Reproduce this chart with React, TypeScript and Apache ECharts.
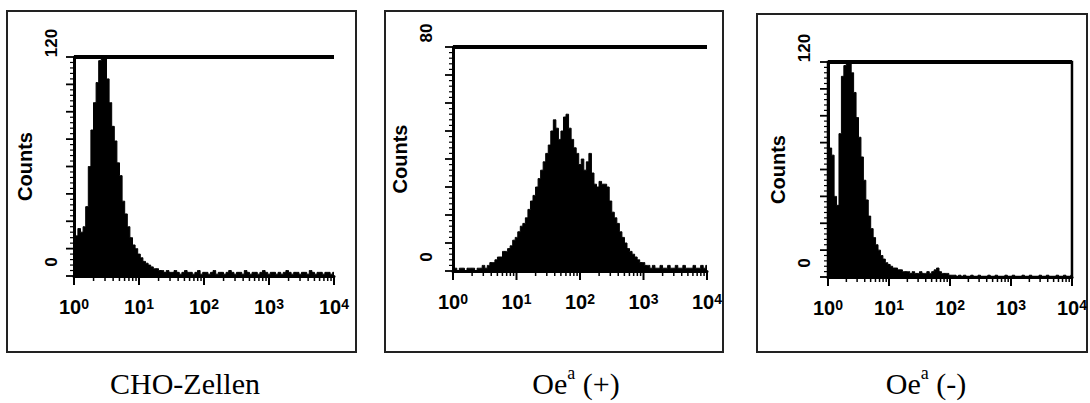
import React, { useEffect, useRef } from 'react';
import * as echarts from 'echarts';

// x positions: log10 of fluorescence (decades 10^0 .. 10^4)
const channels = Array.from({ length: 101 }, (_, i) => (i * 4) / 100);
const captions = ['CHO-Zellen', 'Oe^a (+)', 'Oe^a (-)'];
const yMaxes = [120, 80, 120];
const decades = [0, 1, 2, 3, 4];
const logMinor = [2, 3, 4, 5, 6, 7, 8, 9];

const choCells = [
  24, 22, 26, 24, 27, 38, 60, 80, 95, 106,
  118, 120, 119, 108, 95, 82, 74, 62, 55, 41,
  34, 27, 21, 17, 15, 12, 10, 8, 7, 6,
  5, 4, 4, 3, 3, 2, 3, 2, 2, 3,
  2, 1, 2, 3, 2, 2, 1, 2, 3, 1,
  2,
  2, 1, 2, 3, 1, 2, 2, 1, 2, 3, 2, 1, 2, 2, 1, 3, 2, 1, 2, 2, 1, 2, 3, 2, 1,
  2, 2, 1, 2, 1, 2, 3, 2, 1, 2, 2, 1, 2, 2, 1, 3, 2, 1, 2, 2, 1, 2, 2, 1, 2,
];
const oePlus = [
  1, 1, 0, 1, 1, 0, 1, 1, 1, 0, 1, 1, 2, 1, 2,
  3, 3, 4, 5, 5, 7, 7, 8, 9, 11,
  12, 14, 16, 17, 19, 22, 25, 27, 30, 33,
  36, 39, 42, 45, 50, 54, 51, 47, 50, 55,
  56, 51, 47, 44, 42, 38, 40, 36, 39, 42,
  35, 31, 30, 32, 31, 31, 30, 25, 21, 19,
  17, 14, 12, 10, 8, 7, 6, 5, 4, 3,
  3, 2, 2, 1, 2, 1,
  1, 2, 1, 1, 2, 1, 1, 2, 1, 1, 2, 1, 1, 1, 2, 1, 1, 2, 1, 2,
];
const oeMinus = [
  70, 72, 68, 45, 40, 80, 112, 118, 120, 119,
  114, 103, 89, 78, 67, 54, 43, 34, 27, 22,
  18, 15, 12, 10, 8, 7, 6, 5, 5, 4,
  4, 3, 3, 3, 2, 3, 2, 2, 3, 2,
  2, 3, 2, 3, 4, 5, 3, 2, 2, 2,
  1,
  1, 1, 0, 1, 0, 1, 0, 0, 1, 0, 0, 1, 0, 0, 0, 1, 0, 0, 1, 0, 0, 0, 1, 0, 0,
  1, 0, 0, 0, 1, 0, 0, 1, 0, 0, 0, 1, 0, 0, 1, 0, 0, 0, 1, 0, 0, 1, 0, 0, 1,
];
const seriesValues = [choCells, oePlus, oeMinus];

const offsets = [0, 370, 730];
const widths = [370, 360, 360];
const grids = [
  { left: 74, top: 57, width: 260, height: 219 },
  { left: 453, top: 47, width: 254, height: 224 },
  { left: 828, top: 62, width: 246, height: 215 },
];
const boxes = [
  { x: 7, y: 11, width: 349, height: 341 },
  { x: 385, y: 11, width: 338, height: 341 },
  { x: 757, y: 14, width: 330, height: 338 },
];
const captionX = [185, 576, 926];
const yLabelMargin = [14, 18, 15];
const nameGaps = [38, 42, 37];

const SANS = 'Liberation Sans';
const SERIF = 'Liberation Serif';

function captionRich(t: string) {
  const m = t.match(/^(.*)\^(\w)(.*)$/);
  if (!m) return `{n|${t}}`;
  return `{n|${m[1]}}{s|${m[2]}}{n|${m[3]}}`;
}

// tick positions in axis units: [value, isMajor]
const xTickValues: [number, boolean][] = [];
decades.forEach((d) => {
  xTickValues.push([d, true]);
  if (d < 4) logMinor.forEach((k) => xTickValues.push([d + Math.log10(k), false]));
});

function yTickValues(max: number): [number, boolean][] {
  const out: [number, boolean][] = [];
  for (let k = 0; k <= 40; k++) out.push([(k * max) / 40, k % 5 === 0]);
  return out;
}

function overlayOption() {
  const graphic: any[] = [];
  boxes.forEach((b) => {
    graphic.push({ type: 'rect', shape: b, style: { fill: 'none', stroke: '#222', lineWidth: 2 }, silent: true });
  });
  captions.forEach((c, i) => {
    graphic.push({
      type: 'text',
      x: captionX[i],
      y: 381,
      silent: true,
      style: {
        text: captionRich(c),
        align: 'center',
        verticalAlign: 'middle',
        fill: '#000',
        rich: {
          n: { fontSize: 30, fontFamily: SERIF, fill: '#000', lineHeight: 34, verticalAlign: 'bottom' },
          s: { fontSize: 18, fontFamily: SERIF, fill: '#000', lineHeight: 18, verticalAlign: 'top' },
        },
      },
    });
  });
  return { animation: false, graphic };
}

function panelOption(i: number) {
  const ox = offsets[i];
  const g = grids[i];
  const max = yMaxes[i];
  return {
    animation: false,
    grid: [
      {
        left: g.left - ox,
        top: g.top,
        width: g.width,
        height: g.height,
        show: i === 2,
        borderColor: '#000',
        borderWidth: 2.5,
        backgroundColor: 'transparent',
      },
    ],
    xAxis: [
      {
        type: 'value',
        min: 0,
        max: 4,
        interval: 1,
        axisLine: { onZero: false, lineStyle: { color: '#000', width: 3 } },
        axisTick: { show: false },
        minorTick: { show: false },
        splitLine: { show: false },
        axisLabel: {
          margin: 21,
          formatter: (v: number) => `{b|10}{s|${v}}`,
          rich: {
            b: { fontSize: 20, fontWeight: 'bold', fontFamily: SANS, color: '#000', lineHeight: 20, verticalAlign: 'bottom' },
            s: { fontSize: 14, fontWeight: 'bold', fontFamily: SANS, color: '#000', lineHeight: 14, verticalAlign: 'top', padding: [0, 0, 14, 0] },
          },
        },
      },
    ],
    yAxis: [
      {
        type: 'value',
        min: 0,
        max,
        interval: max / 8,
        name: 'Counts',
        nameLocation: 'middle',
        nameRotate: 90,
        nameGap: nameGaps[i],
        nameTextStyle: { fontSize: 20, fontWeight: 'bold', fontFamily: SANS, color: '#000' },
        axisLine: { show: true, onZero: false, lineStyle: { color: '#000', width: 3 } },
        axisTick: { show: false },
        minorTick: { show: false },
        splitLine: { show: false },
        axisLabel: {
          rotate: 90,
          margin: yLabelMargin[i],
          padding: [0, 0, 0, 28],
          fontSize: 17,
          fontWeight: 'bold',
          fontFamily: SANS,
          color: '#000',
          formatter: (v: number) => (v === 0 || v === max ? String(v) : ''),
        },
      },
    ],
    series: [
      {
        type: 'line',
        step: 'middle',
        symbol: 'none',
        lineStyle: { color: '#000', width: 1 },
        areaStyle: { color: '#000', opacity: 1 },
        data: channels.map((c, j) => [c, seriesValues[i][j]]),
        markLine: {
          silent: true,
          symbol: 'none',
          label: { show: false },
          lineStyle: { color: '#000', width: 4, type: 'solid' },
          data: [{ yAxis: max }],
        },
      },
      {
        // x-axis tick marks (log decades with minor ticks), placed via the axis scale
        type: 'custom',
        silent: true,
        clip: false,
        z: 5,
        dimensions: ['x', 'y', 'major'],
        encode: { x: 0, y: 1 },
        data: xTickValues.map(([v, major]) => [v, 0, major ? 1 : 0]),
        renderItem: (_p: any, api: any) => {
          const pt = api.coord([api.value(0), 0]);
          const len = api.value(2) ? 9 : 5;
          return {
            type: 'line',
            shape: { x1: pt[0], y1: pt[1], x2: pt[0], y2: pt[1] + len },
            style: { stroke: '#000', lineWidth: api.value(2) ? 2 : 1.5 },
          };
        },
      },
      {
        // y-axis ruler tick marks
        type: 'custom',
        silent: true,
        clip: false,
        z: 5,
        dimensions: ['x', 'y', 'major'],
        encode: { x: 0, y: 1 },
        data: yTickValues(max).map(([v, major]) => [0, v, major ? 1 : 0]),
        renderItem: (_p: any, api: any) => {
          const pt = api.coord([0, api.value(1)]);
          const len = api.value(2) ? 8 : 4;
          return {
            type: 'line',
            shape: { x1: pt[0] - len, y1: pt[1], x2: pt[0], y2: pt[1] },
            style: { stroke: '#000', lineWidth: api.value(2) ? 1.8 : 1.2 },
          };
        },
      },
    ],
  };
}

function Chart({ left, width, option }: { left: number; width: number; option: () => any }) {
  const ref = useRef<HTMLDivElement>(null);
  useEffect(() => {
    if (!ref.current) return;
    const chart = echarts.init(ref.current, null, { renderer: 'svg' });
    chart.setOption(option());
    return () => chart.dispose();
  }, []);
  return <div ref={ref} style={{ position: 'absolute', left, top: 0, width, height: 403 }} />;
}

export default function App() {
  return (
    <div style={{ position: 'absolute', left: 0, top: 0, width: 1090, height: 403, background: '#fff' }}>
      <Chart left={0} width={1090} option={overlayOption} />
      {[0, 1, 2].map((i) => (
        <Chart key={i} left={offsets[i]} width={widths[i]} option={() => panelOption(i)} />
      ))}
    </div>
  );
}
